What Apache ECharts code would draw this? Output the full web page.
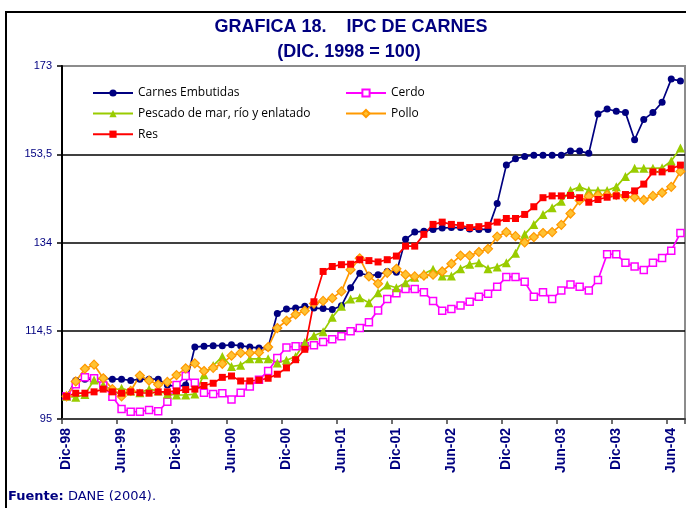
<!DOCTYPE html>
<html>
<head>
<meta charset="utf-8">
<script src="https://cdn.jsdelivr.net/npm/echarts/dist/echarts.min.js"></script>
<style>
html, body { margin: 0; padding: 0; background: #fff; }
#chart { width: 686px; height: 508px; }
</style>
</head>
<body>
<div id="chart"></div>
<script>
//meses (Dic-98 a Jul-04)
var meses = ['Dic-98',
	'Ene-99', 'Feb-99', 'Mar-99', 'Abr-99', 'May-99', 'Jun-99', 'Jul-99', 'Ago-99', 'Sep-99', 'Oct-99', 'Nov-99', 'Dic-99',
	'Ene-00', 'Feb-00', 'Mar-00', 'Abr-00', 'May-00', 'Jun-00', 'Jul-00', 'Ago-00', 'Sep-00', 'Oct-00', 'Nov-00', 'Dic-00',
	'Ene-01', 'Feb-01', 'Mar-01', 'Abr-01', 'May-01', 'Jun-01', 'Jul-01', 'Ago-01', 'Sep-01', 'Oct-01', 'Nov-01', 'Dic-01',
	'Ene-02', 'Feb-02', 'Mar-02', 'Abr-02', 'May-02', 'Jun-02', 'Jul-02', 'Ago-02', 'Sep-02', 'Oct-02', 'Nov-02', 'Dic-02',
	'Ene-03', 'Feb-03', 'Mar-03', 'Abr-03', 'May-03', 'Jun-03', 'Jul-03', 'Ago-03', 'Sep-03', 'Oct-03', 'Nov-03', 'Dic-03',
	'Ene-04', 'Feb-04', 'Mar-04', 'Abr-04', 'May-04', 'Jun-04', 'Jul-04'];

var carnesEmbutidas = [100, 103.5, 103.8, 103.8, 104.0, 103.8, 103.8, 103.5, 103.8, 103.8,
	103.8, 102.5, 102.2, 102.5, 110.9, 111.1, 111.2, 111.2, 111.4, 111.2,
	110.9, 110.7, 110.8, 118.3, 119.3, 119.5, 119.9, 119.5, 119.4, 119.2,
	120.0, 124.0, 127.2, 126.7, 126.9, 127.6, 127.4, 134.7, 136.3, 136.5,
	136.9, 137.2, 137.3, 137.3, 137.0, 136.9, 136.9, 142.6, 151.1, 152.5,
	153.0, 153.3, 153.3, 153.3, 153.3, 154.2, 154.2, 153.7, 162.4, 163.5,
	163.0, 162.7, 156.7, 161.2, 162.7, 165.0, 170.1, 169.7];

var cerdo = [100, 102.7, 104.2, 104.0, 102.4, 99.9, 97.2, 96.6, 96.6, 97.0,
	96.7, 98.8, 102.5, 104.5, 103.0, 100.8, 100.5, 100.7, 99.3, 100.8,
	102.2, 103.7, 105.6, 108.5, 110.8, 111.1, 111.1, 111.3, 112.0, 112.6,
	113.3, 114.4, 115.1, 116.4, 119.0, 121.5, 122.8, 123.7, 123.7, 123.0,
	121.1, 118.9, 119.3, 120.1, 120.9, 122.0, 122.7, 124.2, 126.4, 126.4,
	125.3, 122.0, 123.0, 121.5, 123.4, 124.7, 124.2, 123.4, 125.7, 131.4,
	131.4, 129.5, 128.7, 127.9, 129.5, 130.6, 132.2, 136.1];

var pescado = [100, 99.8, 100.4, 103.6, 102.5, 101.3, 101.8, 101.2, 100.8, 101.6,
	101.2, 100.5, 100.3, 100.3, 100.5, 104.8, 106.8, 108.8, 106.6, 106.9,
	108.3, 108.3, 108.3, 107.4, 108.0, 108.8, 111.9, 113.4, 114.3, 117.5,
	119.9, 121.5, 121.8, 120.7, 122.9, 124.6, 124.0, 125.1, 126.3, 127.1,
	128.1, 126.6, 126.6, 128.2, 129.2, 129.5, 128.2, 128.6, 129.5, 131.6,
	135.8, 138.0, 140.2, 141.7, 143.1, 145.5, 146.3, 145.5, 145.5, 145.5,
	146.3, 148.6, 150.4, 150.4, 150.4, 150.5, 152.0, 154.9];

var pollo = [100, 103.3, 106.1, 107.0, 104.0, 101.6, 100.0, 101.2, 104.6, 103.5,
	102.6, 103.2, 104.7, 106.2, 107.3, 105.6, 106.3, 107.2, 109.0, 109.6,
	109.6, 109.7, 110.9, 115.1, 116.7, 118.1, 118.9, 120.5, 121.1, 121.7,
	123.2, 128.0, 130.5, 126.5, 124.9, 127.3, 128.2, 126.9, 126.5, 126.7,
	126.9, 127.6, 129.3, 131.1, 131.1, 131.9, 132.6, 135.3, 136.3, 135.4,
	134.0, 135.2, 136.1, 136.3, 137.9, 140.4, 143.3, 144.2, 144.4, 144.5,
	144.5, 144.1, 144.0, 143.4, 144.3, 145.0, 146.3, 149.7];

var res = [100, 100.7, 100.7, 101.0, 101.6, 101.0, 100.7, 101.0, 100.8, 100.7,
	101.0, 101.0, 101.2, 101.5, 101.6, 102.4, 102.9, 104.2, 104.5, 103.4,
	103.4, 103.6, 104.0, 104.9, 106.3, 108.1, 110.4, 120.9, 127.6, 128.7,
	129.1, 129.2, 130.2, 130.0, 129.7, 130.2, 131.0, 133.2, 133.2, 135.8,
	138.0, 138.5, 138.0, 137.8, 137.3, 137.5, 137.8, 138.5, 139.3, 139.3,
	140.2, 141.9, 143.9, 144.3, 144.3, 144.4, 143.9, 142.9, 143.5, 144.0,
	144.3, 144.6, 145.4, 146.9, 149.6, 149.6, 150.3, 151.1];

var narrow = '"Liberation Sans Narrow", "Arial Narrow", "Liberation Sans", sans-serif';
var azul = '#000080';

var legendText = {
	color: '#000',
	fontSize: 12,
	fontFamily: '"Open Sans", sans-serif',
	lineHeight: 14
};

function serie(nombre, datos, color, simbolo, tam, estilo) {
	return {
		name: nombre,
		type: 'line',
		data: datos,
		symbol: simbolo,
		symbolSize: tam,
		showAllSymbol: true,
		lineStyle: { color: color, width: 1.7 },
		itemStyle: estilo || { color: color },
		emphasis: { disabled: true },
		animation: false
	};
}

var chart = echarts.init(document.getElementById('chart'));

var option = {
	backgroundColor: '#fff',
	animation: false,
	grid: {
		left: 62,
		right: 1,
		top: 66,
		bottom: 89,
		show: true,
		borderColor: '#8c8c8c',
		borderWidth: 2,
		backgroundColor: 'transparent',
		outerBoundsMode: 'none'
	},
	legend: [{
		left: 92,
		top: 86,
		padding: 0,
		orient: 'vertical',
		itemWidth: 40,
		itemHeight: 9,
		itemGap: 6.6,
		data: ['Carnes Embutidas', 'Pescado de mar, río y enlatado', 'Res'],
		textStyle: legendText,
		selectedMode: false
	}, {
		left: 345,
		top: 86,
		padding: 0,
		orient: 'vertical',
		itemWidth: 40,
		itemHeight: 9,
		itemGap: 6.6,
		data: ['Cerdo', 'Pollo'],
		textStyle: legendText,
		selectedMode: false
	}],
	xAxis: {
		type: 'category',
		data: meses,
		boundaryGap: true,
		axisLine: { lineStyle: { color: '#404040', width: 2 } },
		axisTick: { show: true, interval: 5, length: 5, lineStyle: { color: '#404040', width: 1.5 } },
		axisLabel: {
			interval: 5,
			rotate: 90,
			color: azul,
			fontWeight: 'bold',
			fontSize: 14,
			fontFamily: narrow,
			margin: 9
		},
		splitLine: { show: false }
	},
	yAxis: {
		type: 'value',
		min: 95,
		max: 173,
		interval: 19.5,
		axisLine: { show: true, lineStyle: { color: '#000', width: 2 } },
		axisTick: { show: true, length: 5, lineStyle: { color: '#000', width: 1.5 } },
		axisLabel: {
			color: azul,
			fontSize: 11,
			fontFamily: narrow,
			margin: 10,
			formatter: function(v) { return String(v).replace('.', ','); }
		},
		splitLine: { show: true, showMinLine: false, showMaxLine: false, lineStyle: { color: '#000', width: 1.5 } }
	},
	series: [
		serie('Carnes Embutidas', carnesEmbutidas, azul, 'circle', 7),
		serie('Cerdo', cerdo, '#ff00ff', 'rect', 7, { color: '#fff', borderColor: '#ff00ff', borderWidth: 1.5 }),
		serie('Pescado de mar, río y enlatado', pescado, '#99cc00', 'triangle', 9),
		serie('Pollo', pollo, '#ff9900', 'diamond', 9, { color: '#ffc233', borderColor: '#ff9900', borderWidth: 1.2 }),
		serie('Res', res, '#ff0000', 'rect', 7)
	],
	graphic: [{
		type: 'rect',
		shape: { x: 6, y: 12, width: 700, height: 520 },
		style: { fill: 'none', stroke: '#000', lineWidth: 2 },
		silent: true
	}, {
		type: 'text',
		x: 351,
		y: 27,
		style: {
			text: 'GRAFICA 18.    IPC DE CARNES',
			fill: azul,
			font: 'bold 18px ' + narrow,
			textAlign: 'center',
			textVerticalAlign: 'middle'
		}
	}, {
		type: 'text',
		x: 349,
		y: 52,
		style: {
			text: '(DIC. 1998 = 100)',
			fill: azul,
			font: 'bold 18px ' + narrow,
			textAlign: 'center',
			textVerticalAlign: 'middle'
		}
	}, {
		type: 'text',
		x: 8,
		y: 497,
		style: {
			text: '{b|Fuente:} DANE (2004).',
			fill: azul,
			fontSize: 13,
			fontFamily: '"DejaVu Sans", sans-serif',
			textVerticalAlign: 'middle',
			rich: { b: { fontWeight: 'bold', fill: azul, fontSize: 13, fontFamily: '"DejaVu Sans", sans-serif' } }
		}
	}]
};

chart.setOption(option);
</script>
</body>
</html>
